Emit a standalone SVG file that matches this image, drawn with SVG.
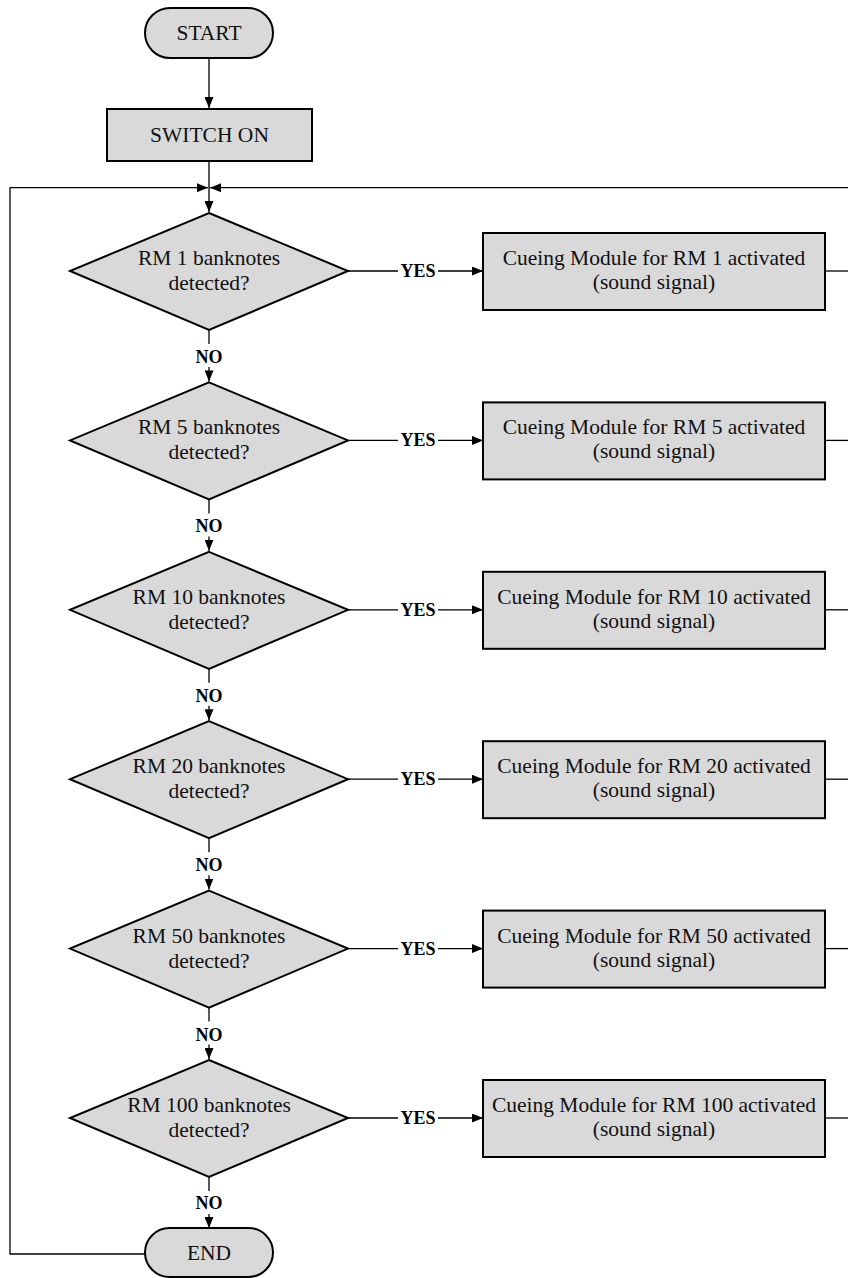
<svg xmlns="http://www.w3.org/2000/svg" width="848" height="1278" viewBox="0 0 848 1278">
<style>
.n{fill:#d9d9d9;stroke:#000;stroke-width:2}
.t{font-family:'Liberation Serif','DejaVu Serif',serif;font-size:21.5px;text-anchor:middle;fill:#111}
.l{font-family:'Liberation Serif','DejaVu Serif',serif;font-size:18px;font-weight:bold;text-anchor:middle;fill:#000}
.c{fill:none;stroke:#000;stroke-width:1.3}
</style>
<defs>
<marker id="a" markerUnits="userSpaceOnUse" markerWidth="11" markerHeight="9" refX="11" refY="4.5" orient="auto"><path d="M0,0 L11,4.5 L0,9 z" fill="#000"/></marker>
</defs>
<g id="connectors">
<path class="c" d="M209,58 V108" marker-end="url(#a)"/>
<path class="c" d="M209,161 V212" marker-end="url(#a)"/>
<path class="c" d="M145,1254 H10 V187.7 H208" marker-end="url(#a)"/>
<path class="c" d="M848,187.7 H210" marker-end="url(#a)"/>
<g id="c1"><path class="c" d="M348,271 H398 M438,271 H483" marker-end="url(#a)"/><text class="l" x="418" y="277">YES</text><path class="c" d="M825,271 H848"/><path class="c" d="M209,330 V344 M209,367 V381.4" marker-end="url(#a)"/><text class="l" x="209" y="363">NO</text></g>
<g id="c2" transform="translate(0,169.4)"><path class="c" d="M348,271 H398 M438,271 H483" marker-end="url(#a)"/><text class="l" x="418" y="277">YES</text><path class="c" d="M825,271 H848"/><path class="c" d="M209,330 V344 M209,367 V381.4" marker-end="url(#a)"/><text class="l" x="209" y="363">NO</text></g>
<g id="c3" transform="translate(0,338.8)"><path class="c" d="M348,271 H398 M438,271 H483" marker-end="url(#a)"/><text class="l" x="418" y="277">YES</text><path class="c" d="M825,271 H848"/><path class="c" d="M209,330 V344 M209,367 V381.4" marker-end="url(#a)"/><text class="l" x="209" y="363">NO</text></g>
<g id="c4" transform="translate(0,508.2)"><path class="c" d="M348,271 H398 M438,271 H483" marker-end="url(#a)"/><text class="l" x="418" y="277">YES</text><path class="c" d="M825,271 H848"/><path class="c" d="M209,330 V344 M209,367 V381.4" marker-end="url(#a)"/><text class="l" x="209" y="363">NO</text></g>
<g id="c5" transform="translate(0,677.6)"><path class="c" d="M348,271 H398 M438,271 H483" marker-end="url(#a)"/><text class="l" x="418" y="277">YES</text><path class="c" d="M825,271 H848"/><path class="c" d="M209,330 V344 M209,367 V381.4" marker-end="url(#a)"/><text class="l" x="209" y="363">NO</text></g>
<g id="c6" transform="translate(0,847)"><path class="c" d="M348,271 H398 M438,271 H483" marker-end="url(#a)"/><text class="l" x="418" y="277">YES</text><path class="c" d="M825,271 H848"/><path class="c" d="M209,330 V344 M209,367 V381" marker-end="url(#a)"/><text class="l" x="209" y="362">NO</text></g>
</g>
<g id="start"><rect class="n" x="145" y="8" width="128" height="50" rx="25"/><text class="t" x="209" y="40">START</text></g>
<g id="switch"><rect class="n" x="107" y="109" width="205" height="52"/><text class="t" x="209.5" y="142">SWITCH ON</text></g>
<g id="d1"><path class="n" d="M209,213 L348,271 L209,330 L70,271 z"/><text class="t" x="209" y="265">RM 1 banknotes</text><text class="t" x="209" y="290">detected?</text></g>
<g id="b1"><rect class="n" x="483" y="233" width="342" height="77"/><text class="t" x="654" y="265">Cueing Module for RM 1 activated</text><text class="t" x="654" y="289">(sound signal)</text></g>
<g id="d2" transform="translate(0,169.4)"><path class="n" d="M209,213 L348,271 L209,330 L70,271 z"/><text class="t" x="209" y="265">RM 5 banknotes</text><text class="t" x="209" y="290">detected?</text></g>
<g id="b2" transform="translate(0,169.4)"><rect class="n" x="483" y="233" width="342" height="77"/><text class="t" x="654" y="265">Cueing Module for RM 5 activated</text><text class="t" x="654" y="289">(sound signal)</text></g>
<g id="d3" transform="translate(0,338.8)"><path class="n" d="M209,213 L348,271 L209,330 L70,271 z"/><text class="t" x="209" y="265">RM 10 banknotes</text><text class="t" x="209" y="290">detected?</text></g>
<g id="b3" transform="translate(0,338.8)"><rect class="n" x="483" y="233" width="342" height="77"/><text class="t" x="654" y="265">Cueing Module for RM 10 activated</text><text class="t" x="654" y="289">(sound signal)</text></g>
<g id="d4" transform="translate(0,508.2)"><path class="n" d="M209,213 L348,271 L209,330 L70,271 z"/><text class="t" x="209" y="265">RM 20 banknotes</text><text class="t" x="209" y="290">detected?</text></g>
<g id="b4" transform="translate(0,508.2)"><rect class="n" x="483" y="233" width="342" height="77"/><text class="t" x="654" y="265">Cueing Module for RM 20 activated</text><text class="t" x="654" y="289">(sound signal)</text></g>
<g id="d5" transform="translate(0,677.6)"><path class="n" d="M209,213 L348,271 L209,330 L70,271 z"/><text class="t" x="209" y="265">RM 50 banknotes</text><text class="t" x="209" y="290">detected?</text></g>
<g id="b5" transform="translate(0,677.6)"><rect class="n" x="483" y="233" width="342" height="77"/><text class="t" x="654" y="265">Cueing Module for RM 50 activated</text><text class="t" x="654" y="289">(sound signal)</text></g>
<g id="d6" transform="translate(0,847)"><path class="n" d="M209,213 L348,271 L209,330 L70,271 z"/><text class="t" x="209" y="265">RM 100 banknotes</text><text class="t" x="209" y="290">detected?</text></g>
<g id="b6" transform="translate(0,847)"><rect class="n" x="483" y="233" width="342" height="77"/><text class="t" x="654" y="265">Cueing Module for RM 100 activated</text><text class="t" x="654" y="289">(sound signal)</text></g>
<g id="end"><rect class="n" x="145" y="1228" width="128" height="49" rx="24.5"/><text class="t" x="209" y="1260">END</text></g>
</svg>
